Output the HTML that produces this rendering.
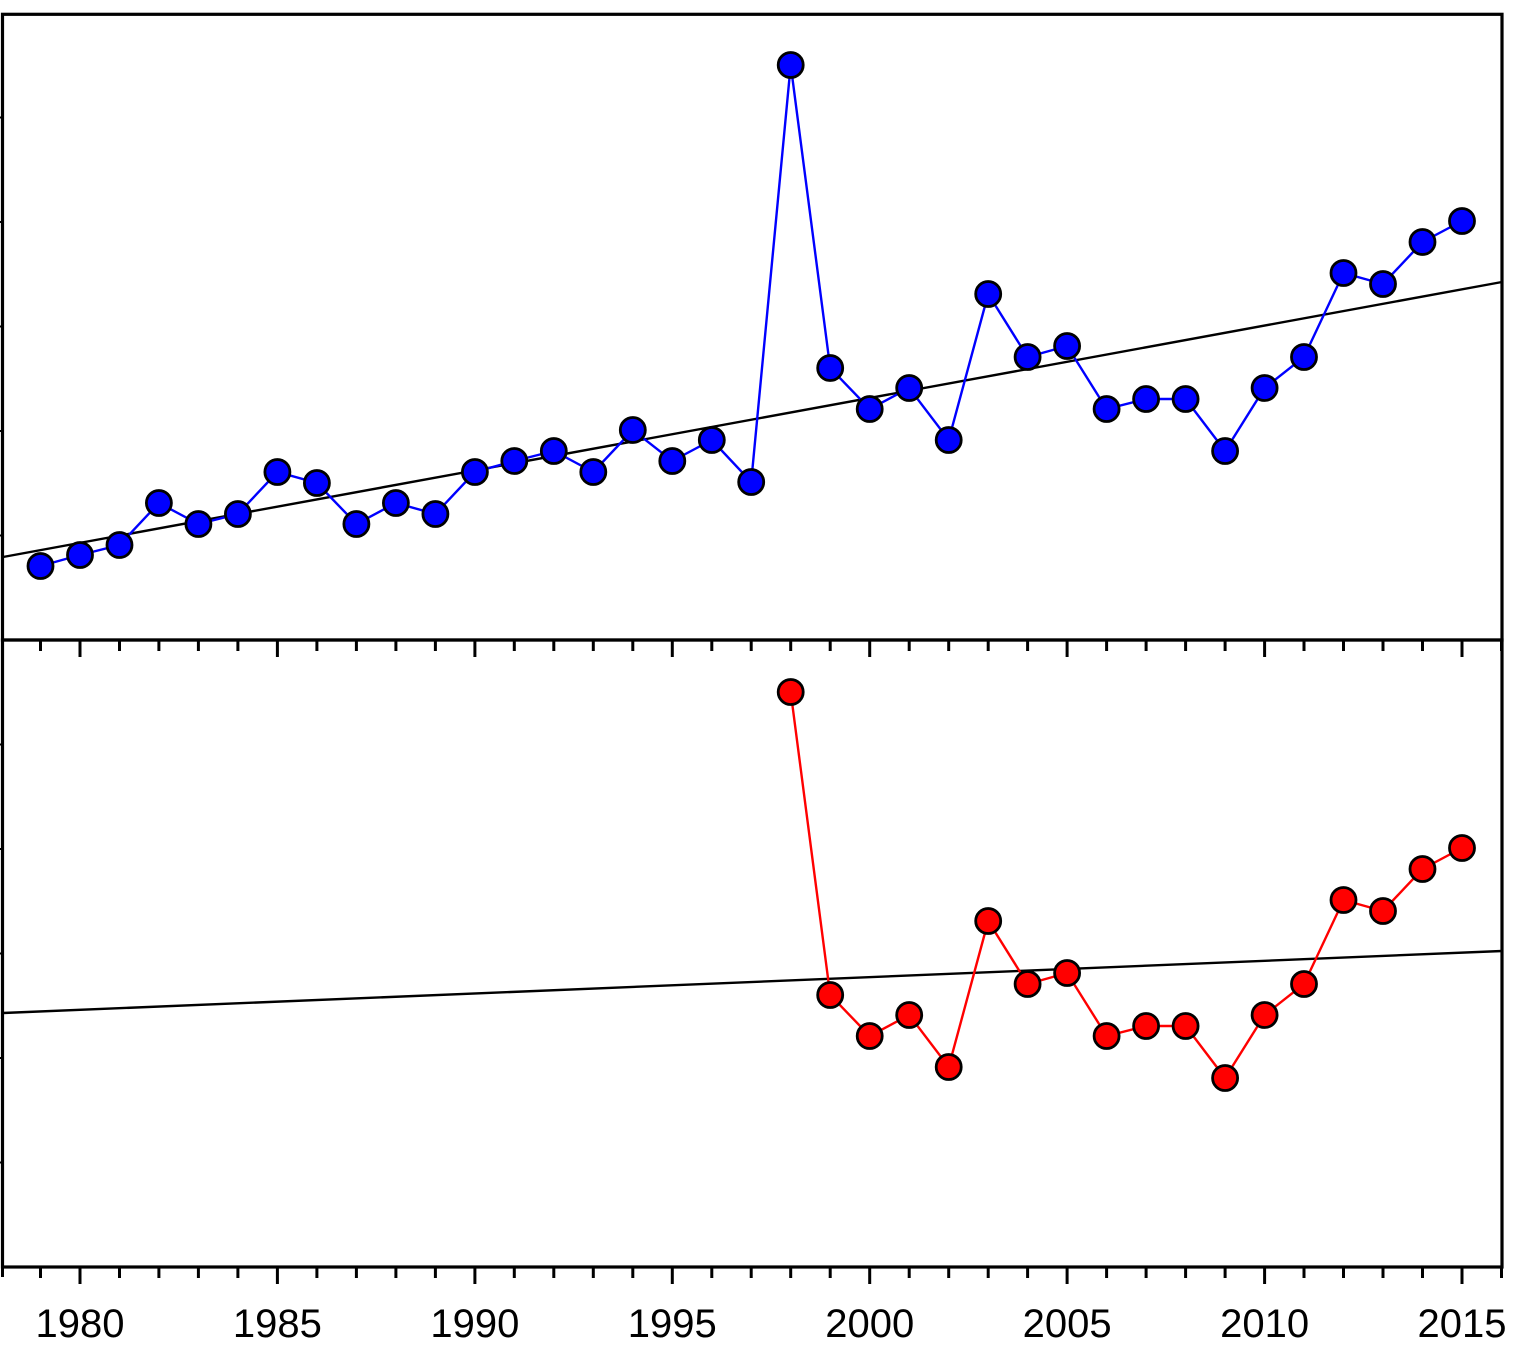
<!DOCTYPE html>
<html><head><meta charset="utf-8"><style>html,body{margin:0;padding:0;background:#fff;width:1519px;height:1351px;overflow:hidden}svg{display:block}</style></head>
<body>
<svg width="1519" height="1351" viewBox="0 0 1519 1351" xmlns="http://www.w3.org/2000/svg">
<defs>
<circle id="b" r="12.5" fill="#0000ff" stroke="#000" stroke-width="2.8"/>
<circle id="r" r="12.5" fill="#ff0000" stroke="#000" stroke-width="2.8"/>
</defs>
<g stroke="#000" stroke-width="3.2" fill="none">
<rect x="2.5" y="14.3" width="1499.5" height="625.7"/>
<rect x="2.5" y="640" width="1499.5" height="627"/>
</g>
<g stroke="#000" stroke-width="2">
<line x1="0" y1="117.5" x2="3" y2="117.5"/><line x1="0" y1="222" x2="3" y2="222"/><line x1="0" y1="326.5" x2="3" y2="326.5"/><line x1="0" y1="431" x2="3" y2="431"/><line x1="0" y1="535.5" x2="3" y2="535.5"/>
<line x1="0" y1="744.5" x2="3" y2="744.5"/><line x1="0" y1="849" x2="3" y2="849"/><line x1="0" y1="953.5" x2="3" y2="953.5"/><line x1="0" y1="1058" x2="3" y2="1058"/><line x1="0" y1="1162.5" x2="3" y2="1162.5"/>
</g>
<g id="ticks" stroke="#000" stroke-width="3">
<line x1="40.5" y1="640" x2="40.5" y2="651"/><line x1="80" y1="640" x2="80" y2="657"/><line x1="119.5" y1="640" x2="119.5" y2="651"/><line x1="158.9" y1="640" x2="158.9" y2="651"/><line x1="198.4" y1="640" x2="198.4" y2="651"/><line x1="237.9" y1="640" x2="237.9" y2="651"/><line x1="277.4" y1="640" x2="277.4" y2="657"/><line x1="316.9" y1="640" x2="316.9" y2="651"/><line x1="356.4" y1="640" x2="356.4" y2="651"/><line x1="395.9" y1="640" x2="395.9" y2="651"/><line x1="435.4" y1="640" x2="435.4" y2="651"/><line x1="474.9" y1="640" x2="474.9" y2="657"/><line x1="514.3" y1="640" x2="514.3" y2="651"/><line x1="553.8" y1="640" x2="553.8" y2="651"/><line x1="593.3" y1="640" x2="593.3" y2="651"/><line x1="632.8" y1="640" x2="632.8" y2="651"/><line x1="672.3" y1="640" x2="672.3" y2="657"/><line x1="711.8" y1="640" x2="711.8" y2="651"/><line x1="751.2" y1="640" x2="751.2" y2="651"/><line x1="790.7" y1="640" x2="790.7" y2="651"/><line x1="830.2" y1="640" x2="830.2" y2="651"/><line x1="869.7" y1="640" x2="869.7" y2="657"/><line x1="909.2" y1="640" x2="909.2" y2="651"/><line x1="948.7" y1="640" x2="948.7" y2="651"/><line x1="988.2" y1="640" x2="988.2" y2="651"/><line x1="1027.6" y1="640" x2="1027.6" y2="651"/><line x1="1067.1" y1="640" x2="1067.1" y2="657"/><line x1="1106.6" y1="640" x2="1106.6" y2="651"/><line x1="1146.1" y1="640" x2="1146.1" y2="651"/><line x1="1185.6" y1="640" x2="1185.6" y2="651"/><line x1="1225.1" y1="640" x2="1225.1" y2="651"/><line x1="1264.6" y1="640" x2="1264.6" y2="657"/><line x1="1304" y1="640" x2="1304" y2="651"/><line x1="1343.5" y1="640" x2="1343.5" y2="651"/><line x1="1383" y1="640" x2="1383" y2="651"/><line x1="1422.5" y1="640" x2="1422.5" y2="651"/><line x1="1462" y1="640" x2="1462" y2="657"/><line x1="1501.5" y1="640" x2="1501.5" y2="651"/>
<line x1="2.5" y1="1267" x2="2.5" y2="1277"/>
</g>
<use href="#ticks" transform="translate(0,627)"/>
<line x1="3" y1="557" x2="1502" y2="282" stroke="#000" stroke-width="2.4"/>
<line x1="3" y1="1013" x2="1502" y2="951" stroke="#000" stroke-width="2.4"/>
<polyline fill="none" stroke="#0000ff" stroke-width="2.4" points="40.5,566 80,555 119.5,545 158.9,503 198.4,524 237.9,514 277.4,472 316.9,483 356.4,524 395.9,503 435.4,514 474.9,472 514.3,461 553.8,451 593.3,472 632.8,430 672.3,461 711.8,440 751.2,482 790.7,65 830.2,368 869.7,409 909.2,388 948.7,440 988.2,294 1027.6,357 1067.1,346 1106.6,409 1146.1,399 1185.6,399 1225.1,451 1264.6,388 1304,357 1343.5,273 1383,284 1422.5,242 1462,221"/>
<g>
<use href="#b" x="40.5" y="566"/><use href="#b" x="80" y="555"/><use href="#b" x="119.5" y="545"/><use href="#b" x="158.9" y="503"/><use href="#b" x="198.4" y="524"/><use href="#b" x="237.9" y="514"/><use href="#b" x="277.4" y="472"/><use href="#b" x="316.9" y="483"/><use href="#b" x="356.4" y="524"/><use href="#b" x="395.9" y="503"/><use href="#b" x="435.4" y="514"/><use href="#b" x="474.9" y="472"/><use href="#b" x="514.3" y="461"/><use href="#b" x="553.8" y="451"/><use href="#b" x="593.3" y="472"/><use href="#b" x="632.8" y="430"/><use href="#b" x="672.3" y="461"/><use href="#b" x="711.8" y="440"/><use href="#b" x="751.2" y="482"/><use href="#b" x="790.7" y="65"/><use href="#b" x="830.2" y="368"/><use href="#b" x="869.7" y="409"/><use href="#b" x="909.2" y="388"/><use href="#b" x="948.7" y="440"/><use href="#b" x="988.2" y="294"/><use href="#b" x="1027.6" y="357"/><use href="#b" x="1067.1" y="346"/><use href="#b" x="1106.6" y="409"/><use href="#b" x="1146.1" y="399"/><use href="#b" x="1185.6" y="399"/><use href="#b" x="1225.1" y="451"/><use href="#b" x="1264.6" y="388"/><use href="#b" x="1304" y="357"/><use href="#b" x="1343.5" y="273"/><use href="#b" x="1383" y="284"/><use href="#b" x="1422.5" y="242"/><use href="#b" x="1462" y="221"/>
</g>
<g transform="translate(0,627)">
<polyline fill="none" stroke="#ff0000" stroke-width="2.4" points="790.7,65 830.2,368 869.7,409 909.2,388 948.7,440 988.2,294 1027.6,357 1067.1,346 1106.6,409 1146.1,399 1185.6,399 1225.1,451 1264.6,388 1304,357 1343.5,273 1383,284 1422.5,242 1462,221"/>
<use href="#r" x="790.7" y="65"/><use href="#r" x="830.2" y="368"/><use href="#r" x="869.7" y="409"/><use href="#r" x="909.2" y="388"/><use href="#r" x="948.7" y="440"/><use href="#r" x="988.2" y="294"/><use href="#r" x="1027.6" y="357"/><use href="#r" x="1067.1" y="346"/><use href="#r" x="1106.6" y="409"/><use href="#r" x="1146.1" y="399"/><use href="#r" x="1185.6" y="399"/><use href="#r" x="1225.1" y="451"/><use href="#r" x="1264.6" y="388"/><use href="#r" x="1304" y="357"/><use href="#r" x="1343.5" y="273"/><use href="#r" x="1383" y="284"/><use href="#r" x="1422.5" y="242"/><use href="#r" x="1462" y="221"/>
</g>
<g font-family="Liberation Sans, Arial, sans-serif" font-size="40" text-anchor="middle" fill="#000">
<text x="80" y="1337">1980</text><text x="277.4" y="1337">1985</text><text x="474.9" y="1337">1990</text><text x="672.3" y="1337">1995</text><text x="869.7" y="1337">2000</text><text x="1067.1" y="1337">2005</text><text x="1264.6" y="1337">2010</text><text x="1462" y="1337">2015</text>
</g>
</svg>
</body></html>
